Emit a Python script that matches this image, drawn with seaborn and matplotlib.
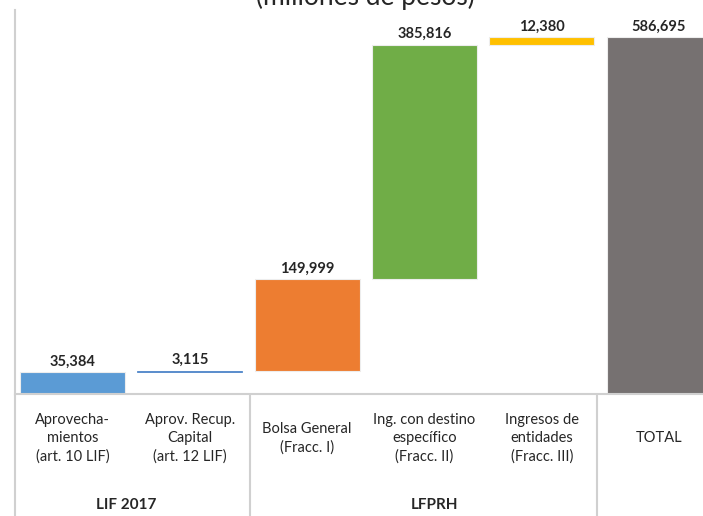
# %% Waterfall: ingresos (millones de pesos)
import pandas as pd
import numpy as np
import seaborn as sns
import matplotlib.pyplot as plt

categories = ['Aprovecha-\nmientos\n(art. 10 LIF)', 'Aprov. Recup.\nCapital\n(art. 12 LIF)',
              'Bolsa General\n(Fracc. I)', 'Ing. con destino\nespecífico\n(Fracc. II)',
              'Ingresos de\nentidades\n(Fracc. III)', 'TOTAL']
values = [35384, 3115, 149999, 385816, 12380, 586695]
colors = ['#5B9BD5', '#4F86C9', '#ED7D31', '#70AD47', '#FFC000', '#767171']
groups = ['LIF 2017', 'LFPRH']

sns.set_style('white')
plt.rcParams['font.family'] = ['Lato', 'DejaVu Sans']

# Base of each step (total starts at zero)
steps = np.array(values[:-1])
base = np.concatenate([[0], np.cumsum(steps)[:-1], [0]])
df = pd.DataFrame({'cat': categories, 'val': values, 'base': base})
df['top'] = df['base'] + df['val']

fig = plt.figure(figsize=(7.03, 5.16), dpi=100)
ax = fig.add_axes([15/703, 122/516, 688/703, 384/516])

# floating bars, bottom passed through to matplotlib
sns.barplot(data=df, x='cat', y='val', bottom=df['base'].values, color=colors[0],
            saturation=1, width=0.895, edgecolor='#EDEDED', linewidth=0.8, ax=ax, zorder=2)
for patch, c, v in zip(ax.patches, colors, values):
    patch.set_facecolor(c)
    # very thin step: no light outline, otherwise it washes out
    if v < 10000:
        patch.set_edgecolor(c)
        patch.set_linewidth(0.6)

ax.set_xlim(-0.49, 5.375)
ax.set_ylim(0, 631068)
ax.set_xlabel('')
ax.set_ylabel('')
ax.set_xticks([])
ax.set_yticks([])
sns.despine(ax=ax, top=True, right=True)
for s in ['left', 'bottom']:
    ax.spines[s].set_color('#D0D0D0')
    ax.spines[s].set_linewidth(1.5)

# value labels
for i, row in df.iterrows():
    ax.text(i, row['top'] + 6000, f"{row['val']:,}", ha='center', va='bottom',
            fontsize=10.5, fontweight='bold', color='#262626', zorder=4)

# category labels below the axis
tr = ax.get_xaxis_transform()
for i, c in enumerate(categories):
    ax.text(i, -0.115, c, transform=tr, ha='center', va='center', fontsize=10.5,
            linespacing=1.4, color='#262626')

# table separators
ax.vlines([-0.49, 1.51, 4.47], -0.33, 0, transform=tr, colors='#D0D0D0',
          linewidth=1.5, clip_on=False)

ax.text(0.46, -0.29, groups[0], transform=tr, ha='center', va='center',
        fontsize=11, fontweight='bold', color='#262626')
ax.text(3.09, -0.29, groups[1], transform=tr, ha='center', va='center',
        fontsize=11, fontweight='bold', color='#262626')

fig.text(365/703, 1 - 5/516, '(millones de pesos)', ha='center', va='baseline',
         fontsize=19, color='#262626')

plt.savefig('out.png', dpi=100)
